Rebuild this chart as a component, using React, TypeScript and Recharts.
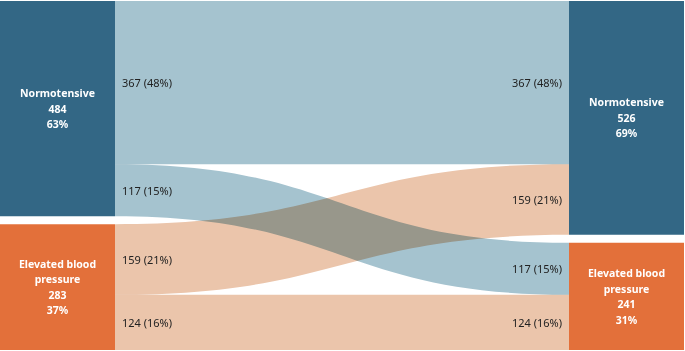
import React from "react";
import { Sankey, Layer, Rectangle } from "recharts";

const categories = ["Normotensive", "Elevated blood pressure"];
const categoryLines = [["Normotensive"], ["Elevated blood", "pressure"]];
const nodeColors = ["#336785", "#e3703a"];
const linkColors = ["#a5c3cf", "#ebc5ab"];

// flows from baseline (left) to follow-up (right)
const flowFrom = [0, 0, 1, 1];
const flowTo = [0, 1, 0, 1];
const flowValues = [367, 117, 159, 124];

const total = flowValues.reduce((a, b) => a + b, 0);
const pct = (v: number) => `${Math.round((v / total) * 100)}%`;

const data = {
	nodes: [
		...categories.map((name, i) => ({ name, cat: i, side: "left" })),
		...categories.map((name, i) => ({ name, cat: i, side: "right" })),
	],
	links: flowValues.map((value, i) => ({
		source: flowFrom[i],
		target: categories.length + flowTo[i],
		value,
	})),
};

const FONT = "'Noto Sans', 'Open Sans', sans-serif";

function NodeShape(props: any) {
	const { x, y, width, height, payload } = props;
	const cat = payload.cat;
	const lines = [...categoryLines[cat], String(payload.value), pct(payload.value)];
	const lh = 15.5;
	const cx = x + width / 2;
	const cy = y + height / 2;
	const startY = cy - ((lines.length - 1) * lh) / 2;
	return (
		<Layer>
			<Rectangle x={x} y={y} width={width} height={height} fill={nodeColors[cat]} fillOpacity={1} />
			{lines.map((t, i) => (
				<text
					key={i}
					x={cx}
					y={startY + i * lh}
					textAnchor="middle"
					dominantBaseline="central"
					fill="#fff"
					fontFamily={FONT}
					fontWeight="bold"
					fontSize={10.5}
				>
					{t}
				</text>
			))}
		</Layer>
	);
}

function LinkShape(props: any) {
	const { sourceX, targetX, sourceY, targetY, sourceControlX, targetControlX, linkWidth, payload } = props;
	const h = linkWidth / 2;
	const cat = payload?.source?.cat ?? 0;
	const d = `M${sourceX},${sourceY - h} C${sourceControlX},${sourceY - h} ${targetControlX},${targetY - h} ${targetX},${targetY - h} L${targetX},${targetY + h} C${targetControlX},${targetY + h} ${sourceControlX},${sourceY + h} ${sourceX},${sourceY + h} Z`;
	const label = `${payload.value} (${pct(payload.value)})`;
	return (
		<Layer>
			<path d={d} fill={linkColors[cat]} stroke="none" style={{ mixBlendMode: "multiply" }} />
			<text x={sourceX + 7} y={sourceY} dominantBaseline="central" fontFamily={FONT} fontSize={11} fill="#222">
				{label}
			</text>
			<text
				x={targetX - 7}
				y={targetY}
				textAnchor="end"
				dominantBaseline="central"
				fontFamily={FONT}
				fontSize={11}
				fill="#222"
			>
				{label}
			</text>
		</Layer>
	);
}

export default function App() {
	return (
		<div style={{ width: 685, height: 351, background: "#fff" }}>
			<style>{"body{margin:0}"}</style>
			<Sankey
				width={685}
				height={351}
				data={data}
				nodeWidth={115}
				nodePadding={8}
				iterations={0}
				margin={{ top: 1, right: 1, bottom: 1, left: 0 }}
				node={<NodeShape />}
				link={<LinkShape />}
			/>
		</div>
	);
}
